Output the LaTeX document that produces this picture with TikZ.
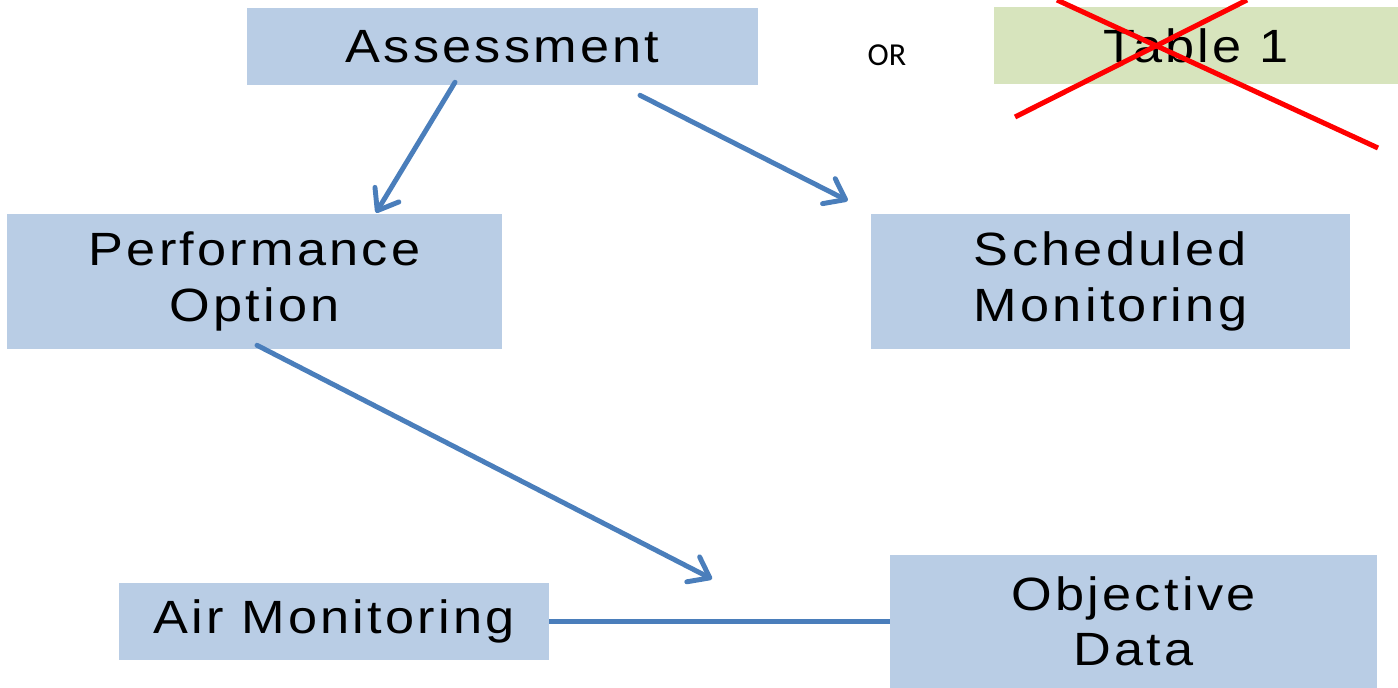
\documentclass[tikz,border=0pt]{standalone}
\usepackage{fontspec}
\setmainfont{Liberation Sans}[FakeStretch=1.12, LetterSpace=7]
\newfontfamily\orfont{Carlito}
\usetikzlibrary{arrows.meta}
\definecolor{boxblue}{HTML}{B9CDE5}
\definecolor{boxgreen}{HTML}{D7E4BD}
\definecolor{arrowblue}{HTML}{4A7EBB}
\definecolor{crossred}{HTML}{FF0000}
\begin{document}
\begin{tikzpicture}[x=0.75pt,y=-0.75pt,
  box/.style={fill=#1, draw=none, inner sep=0pt, align=center,
    font=\fontsize{35pt}{41.5pt}\selectfont},
  box/.default=boxblue,
  arr/.style={draw=arrowblue, line width=3.7pt, line cap=round, line join=round,
    -{Straight Barb[length=14pt,width=21pt,round]}},
  plainline/.style={draw=arrowblue, line width=3.7pt},
  cross/.style={draw=crossred, line width=3.8pt}]
\useasboundingbox (0,0) rectangle (1398,688);
\node[box, minimum width={511*0.75pt}, minimum height={77*0.75pt}] (assess) at (502.5,46.5) {Assessment};
\node[box=boxgreen, minimum width={404*0.75pt}, minimum height={77*0.75pt}] (table) at (1196,45.5) {Table 1};
\node[font=\orfont\fontsize{24pt}{28pt}\selectfont, inner sep=0pt] (or) at (887,55) {OR};
\node[box, minimum width={495*0.75pt}, minimum height={135*0.75pt}] (perf) at (254.5,281.5) {Performance\\Option};
\node[box, minimum width={479*0.75pt}, minimum height={135*0.75pt}] (sched) at (1110.5,281.5) {Scheduled\\Monitoring};
\node[box, minimum width={430*0.75pt}, minimum height={77*0.75pt}] (air) at (334,621.5) {Air Monitoring};
\node[box, minimum width={487*0.75pt}, minimum height={133*0.75pt}] (obj) at (1133.5,621.5) {Objective\\Data};
% red cross over Table 1
\coordinate (c1a) at (1015,117);
\coordinate (c1b) at (1247,0);
\coordinate (c2a) at (1057,0);
\coordinate (c2b) at (1378,148);
\draw[cross] (c1a) -- (c1b);
\draw[cross] (c2a) -- (c2b);
% connectors
\coordinate (perfend) at (712,579);
\draw[arr] ([xshift={-47.5*0.75pt},yshift={3*0.75pt}]assess.south) -- ([xshift={121.5*0.75pt},yshift={1*0.75pt}]perf.north);
\draw[arr] ([xshift={137.5*0.75pt},yshift={-10*0.75pt}]assess.south) -- ([xshift={-23*0.75pt},yshift={13*0.75pt}]sched.north west);
\draw[arr] ([xshift={2.5*0.75pt},yshift={4*0.75pt}]perf.south) -- (perfend);
\draw[plainline] (air.east) -- (obj.west);
\end{tikzpicture}
\end{document}
